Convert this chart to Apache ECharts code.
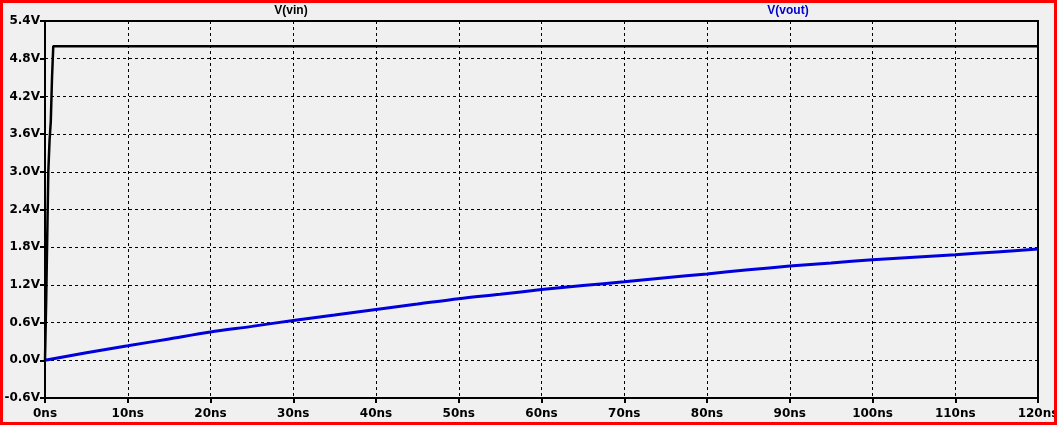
<!DOCTYPE html>
<html>
<head>
<meta charset="utf-8">
<script src="https://cdn.jsdelivr.net/npm/echarts@6/dist/echarts.min.js"></script>
<style>
html,body{margin:0;padding:0;background:#f0f0f0;}
#chart{width:1057px;height:425px;}
</style>
</head>
<body>
<div id="chart"></div>
<script>
// ---- data (time in ns, voltage in V) ----
var vinTime   = [0, 0.15, 0.3, 0.4, 0.55, 0.7, 0.85, 1.0, 120];
var vinValues = [0, 1.0, 2.2, 3.0, 3.5, 3.8, 4.5, 5.0, 5.0];

var voutTime   = [0, 5, 10, 15, 20, 25, 30, 35, 40, 45, 50, 55, 60, 65, 70, 75, 80, 85, 90, 95, 100, 105, 110, 115, 120];
var voutValues = [0, 0.12, 0.23, 0.34, 0.45, 0.54, 0.635, 0.72, 0.81, 0.895, 0.98, 1.05, 1.125, 1.19, 1.25, 1.315, 1.375, 1.44, 1.5, 1.55, 1.6, 1.64, 1.68, 1.725, 1.77];

var traceNames = ['V(vin)', 'V(vout)'];
var yTickUnit = 'V';
var xTickUnit = 'ns';

function zip(a, b) { return a.map(function (v, i) { return [v, b[i]]; }); }

var chart = echarts.init(document.getElementById('chart'), null, {renderer: 'canvas'});
chart.setOption({
  animation: false,
  backgroundColor: '#f0f0f0',
  grid: {
    left: 45, top: 21, right: 19, bottom: 27,
    outerBoundsMode: 'none', containLabel: false,
    show: true, borderColor: '#000', borderWidth: 2, backgroundColor: 'transparent'
  },
  xAxis: {
    type: 'value', min: 0, max: 120, interval: 10,
    axisLine: {show: true, onZero: false, lineStyle: {color: '#000', width: 2}},
    axisTick: {show: true, inside: false, length: 5, lineStyle: {color: '#000', width: 2}},
    axisLabel: {
      margin: 10, color: '#000', fontFamily: 'DejaVu Sans', fontWeight: 'bold', fontSize: 12,
      hideOverlap: false,
      formatter: function (v) { return Math.round(v) + xTickUnit; }
    },
    splitLine: {show: true, lineStyle: {color: '#000', width: 1, type: [3, 3]}}
  },
  yAxis: {
    type: 'value', min: -0.6, max: 5.4, interval: 0.6,
    axisLine: {show: true, onZero: false, lineStyle: {color: '#000', width: 2}},
    axisTick: {show: true, inside: false, length: 5, lineStyle: {color: '#000', width: 2}},
    axisLabel: {
      margin: 5, color: '#000', fontFamily: 'DejaVu Sans', fontWeight: 'bold', fontSize: 12,
      formatter: function (v) { if (Math.abs(v) < 1e-9) v = 0; return v.toFixed(1) + yTickUnit; }
    },
    splitLine: {show: true, lineStyle: {color: '#000', width: 1, type: [3, 3]}}
  },
  series: [
    {
      name: traceNames[1], type: 'line', data: zip(voutTime, voutValues),
      showSymbol: false, smooth: 0.3, lineStyle: {color: '#0000dd', width: 3}, z: 3
    },
    {
      name: traceNames[0], type: 'line', data: zip(vinTime, vinValues),
      showSymbol: false, lineStyle: {color: '#000', width: 2.5}, z: 4
    }
  ],
  graphic: [
    {type: 'text', x: 291, y: 11, style: {text: traceNames[0], fill: '#000', textAlign: 'center', textVerticalAlign: 'middle', font: 'bold 12px "Liberation Sans"'}},
    {type: 'text', x: 788, y: 11, style: {text: traceNames[1], fill: '#0000cc', textAlign: 'center', textVerticalAlign: 'middle', font: 'bold 12px "Liberation Sans"'}},
    {type: 'rect', shape: {x: 1.5, y: 1.5, width: 1054, height: 422}, style: {fill: 'none', stroke: '#ff0000', lineWidth: 3}, z: 100}
  ]
});
</script>
</body>
</html>
